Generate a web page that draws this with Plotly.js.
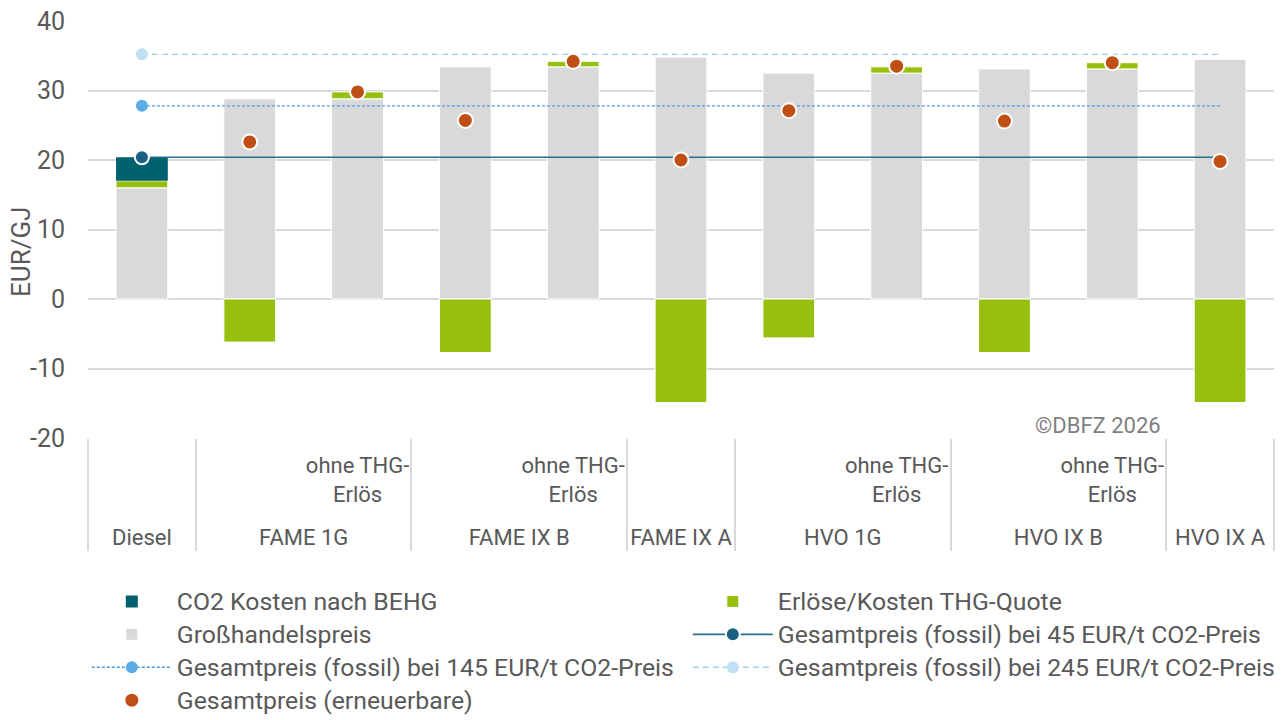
<!DOCTYPE html>
<html>
<head>
<meta charset="utf-8">
<script src="https://cdn.plot.ly/plotly-3.0.1.min.js"></script>
<style>html,body{margin:0;padding:0;background:#fff;}#chart{width:1282px;height:720px;}</style>
</head>
<body>
<div id="chart"></div>
<script>
// Categories (group level and sub level)
const groups = ['Diesel','FAME 1G','FAME 1G','FAME IX B','FAME IX B','FAME IX A','HVO 1G','HVO 1G','HVO IX B','HVO IX B','HVO IX A'];
const subs = [' ',' ','ohne THG-<br>Erlös<br> ',' ','ohne THG-<br>Erlös<br> ',' ',' ','ohne THG-<br>Erlös<br> ',' ','ohne THG-<br>Erlös<br> ',' '];

// Series values (EUR/GJ)
const grosshandel = [16.0, 28.8, 28.8, 33.4, 33.4, 34.8, 32.5, 32.5, 33.1, 33.1, 34.5];
const thgQuote    = [1.0, -6.2, 1.0, -7.7, 0.8, -14.9, -5.6, 0.9, -7.7, 0.9, -14.9];
const co2Kosten   = [3.4, 0, 0, 0, 0, 0, 0, 0, 0, 0, 0];
const fossil45    = [20.4, 20.4, 20.4, 20.4, 20.4, 20.4, 20.4, 20.4, 20.4, 20.4, 20.4];
const fossil145   = [27.8, 27.8, 27.8, 27.8, 27.8, 27.8, 27.8, 27.8, 27.8, 27.8, 27.8];
const fossil245   = [35.2, 35.2, 35.2, 35.2, 35.2, 35.2, 35.2, 35.2, 35.2, 35.2, 35.2];
const erneuerbar  = [null, 22.6, 29.8, 25.7, 34.2, 20.0, 27.1, 33.5, 25.6, 34.0, 19.8];

const yTicks = [-20, -10, 0, 10, 20, 30, 40];
const yTickText = ['-20', '-10', '0', '10', '20', '30', '40'];

const x = [groups, subs];
const firstOnly = (c) => groups.map((g, i) => i === 0 ? c : 'rgba(0,0,0,0)');
const lg = (s) => '<span style="font-size:24.8px">' + s + '</span>';

const FONT = 'Roboto, "Noto Sans", sans-serif';
const TXT = '#595959';

const traces = [
  {type:'bar', name:lg('Großhandelspreis'), x:x, y:grosshandel, legendrank:3,
   marker:{color:'#D9D9D9', line:{color:'#FFFFFF', width:1}}},
  {type:'bar', name:lg('Erlöse/Kosten THG-Quote'), x:x, y:thgQuote, legendrank:2,
   marker:{color:'#97BF0D', line:{color:'#FFFFFF', width:1}}},
  {type:'bar', name:lg('CO2 Kosten nach BEHG'), x:x, y:co2Kosten, legendrank:1,
   marker:{color:'#00616E', line:{color:'#FFFFFF', width:0}}},
  {type:'scatter', mode:'lines+markers', name:lg('Gesamtpreis (fossil) bei 45 EUR/t CO2-Preis'), x:x, y:fossil45, legendrank:4,
   line:{color:'#2A6E8F', width:1.6},
   marker:{size:14, color:firstOnly('#1B5F82'), line:{color:firstOnly('#FFFFFF'), width:2}}},
  {type:'scatter', mode:'lines+markers', name:lg('Gesamtpreis (fossil) bei 145 EUR/t CO2-Preis'), x:x, y:fossil145, legendrank:5,
   line:{color:'#4C9BE8', width:1.3, dash:'3px,2px'},
   marker:{size:12, color:firstOnly('#5AAEE5'), line:{width:0}}},
  {type:'scatter', mode:'lines+markers', name:lg('Gesamtpreis (fossil) bei 245 EUR/t CO2-Preis'), x:x, y:fossil245, legendrank:6,
   line:{color:'#A0D0EF', width:1.3, dash:'6px,4px'},
   marker:{size:12, color:firstOnly('#BFE0F5'), line:{width:0}}},
  {type:'scatter', mode:'markers', name:lg('Gesamtpreis (erneuerbare)'), x:x, y:erneuerbar, legendrank:7,
   marker:{size:15, color:'#C04F15', line:{color:'#FFFFFF', width:2}}}
];

const layout = {
  width:1282, height:720,
  margin:{l:88, r:8, t:21, b:282, autoexpand:false},
  paper_bgcolor:'#FFFFFF', plot_bgcolor:'#FFFFFF',
  font:{family:FONT, size:20, color:TXT},
  barmode:'relative', bargap:0.52,
  showlegend:true,
  legend:{orientation:'h', x:-0.001, xanchor:'left', y:-0.3405, yanchor:'top',
          entrywidth:506, entrywidthmode:'pixels', itemwidth:80,
          traceorder:'normal', font:{family:FONT, size:23, color:TXT},
          bgcolor:'rgba(0,0,0,0)', borderwidth:0},
  xaxis:{type:'multicategory', range:[-0.5, 10.5], autorange:false,
         showgrid:false, showline:false, ticks:'',
         tickangle:0,
         showdividers:true, dividercolor:'#D9D9D9', dividerwidth:2,
         ticklabelstandoff:12,
         tickfont:{family:FONT, size:22, color:TXT}},
  yaxis:{range:[-20, 40], tickvals:yTicks, ticktext:yTickText, showgrid:true,
         gridcolor:'#D9D9D9', gridwidth:2, zeroline:false, showline:false, ticks:'',
         ticklabelstandoff:22, tickfont:{family:FONT, size:25, color:TXT}},
  annotations:[
    {text:'EUR/GJ', xref:'paper', yref:'paper', x:-0.0565, y:0.446, textangle:-90,
     xanchor:'center', yanchor:'middle', showarrow:false,
     font:{family:FONT, size:26, color:TXT}},
    {text:'©DBFZ 2026', xref:'paper', yref:'paper', x:0.906, y:0.029,
     xanchor:'right', yanchor:'middle', showarrow:false,
     font:{family:FONT, size:22, color:'#7F7F7F'}}]
};

Plotly.newPlot('chart', traces, layout, {displayModeBar:false, staticPlot:true});
</script>
</body>
</html>
